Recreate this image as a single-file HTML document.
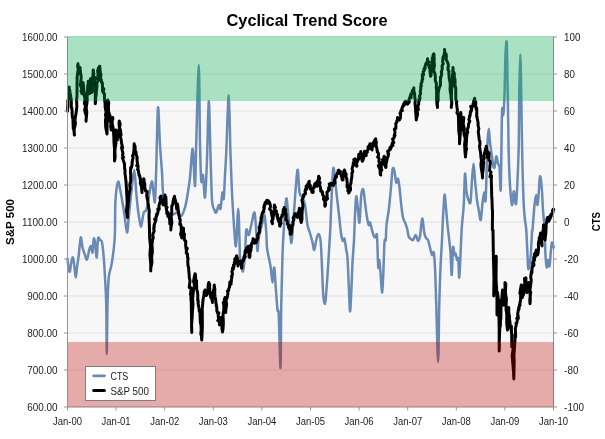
<!DOCTYPE html>
<html><head><meta charset="utf-8"><title>Cyclical Trend Score</title>
<style>
html,body{margin:0;padding:0;background:#fff;}
svg{display:block;font-family:"Liberation Sans",sans-serif;}
</style></head><body>
<svg width="605" height="439" viewBox="0 0 605 439">
<rect width="605" height="439" fill="#ffffff"/>
<rect x="67.5" y="37.0" width="486.0" height="370.0" fill="#f7f7f7"/>
<g stroke="#dedede" stroke-width="0.9" shape-rendering="auto"><line x1="67.5" x2="553.5" y1="37.0" y2="37.0"/><line x1="67.5" x2="553.5" y1="74.0" y2="74.0"/><line x1="67.5" x2="553.5" y1="111.0" y2="111.0"/><line x1="67.5" x2="553.5" y1="148.0" y2="148.0"/><line x1="67.5" x2="553.5" y1="185.0" y2="185.0"/><line x1="67.5" x2="553.5" y1="222.0" y2="222.0"/><line x1="67.5" x2="553.5" y1="259.0" y2="259.0"/><line x1="67.5" x2="553.5" y1="296.0" y2="296.0"/><line x1="67.5" x2="553.5" y1="333.0" y2="333.0"/><line x1="67.5" x2="553.5" y1="370.0" y2="370.0"/><line x1="67.5" x2="553.5" y1="407.0" y2="407.0"/></g>
<path fill="none" stroke="#698ab4" stroke-width="2.5" stroke-linejoin="round" stroke-linecap="round" d="M67.50,258.75C67.71,260.62 68.33,267.96 68.75,270.00C69.17,272.04 69.58,272.25 70.00,271.00C70.42,269.75 70.75,264.75 71.25,262.50C71.75,260.25 72.46,256.67 73.00,257.50C73.54,258.33 74.04,264.17 74.50,267.50C74.96,270.83 75.33,277.50 75.75,277.50C76.17,277.50 76.50,271.25 77.00,267.50C77.50,263.75 78.12,260.00 78.75,255.00C79.38,250.00 80.12,238.75 80.75,237.50C81.38,236.25 81.79,244.58 82.50,247.50C83.21,250.42 84.25,253.00 85.00,255.00C85.75,257.00 86.25,260.54 87.00,259.50C87.75,258.46 88.79,250.96 89.50,248.75C90.21,246.54 90.75,245.62 91.25,246.25C91.75,246.88 92.08,253.75 92.50,252.50C92.92,251.25 93.33,240.42 93.75,238.75C94.17,237.08 94.50,239.38 95.00,242.50C95.50,245.62 96.25,258.12 96.75,257.50C97.25,256.88 97.46,241.67 98.00,238.75C98.54,235.83 99.33,239.38 100.00,240.00C100.67,240.62 101.38,239.58 102.00,242.50C102.62,245.42 103.25,251.67 103.75,257.50C104.25,263.33 104.58,269.58 105.00,277.50C105.42,285.42 105.96,292.25 106.25,305.00C106.54,317.75 106.54,354.00 106.75,354.00C106.96,354.00 107.17,317.75 107.50,305.00C107.83,292.25 108.12,284.00 108.75,277.50C109.38,271.00 110.54,269.75 111.25,266.00C111.96,262.25 112.46,259.17 113.00,255.00C113.54,250.83 114.17,245.17 114.50,241.00C114.83,236.83 114.83,236.83 115.00,230.00C115.17,223.17 115.00,208.00 115.50,200.00C116.00,192.00 117.25,183.88 118.00,182.00C118.75,180.12 119.25,185.33 120.00,188.75C120.75,192.17 121.75,198.12 122.50,202.50C123.25,206.88 123.75,210.00 124.50,215.00C125.25,220.00 126.29,232.08 127.00,232.50C127.71,232.92 128.04,224.17 128.75,217.50C129.46,210.83 130.33,200.42 131.25,192.50C132.17,184.58 133.42,170.00 134.25,170.00C135.08,170.00 135.62,185.83 136.25,192.50C136.88,199.17 137.38,205.00 138.00,210.00C138.62,215.00 139.46,219.83 140.00,222.50C140.54,225.17 140.62,227.67 141.25,226.00C141.88,224.33 142.92,215.17 143.75,212.50C144.58,209.83 145.42,212.50 146.25,210.00C147.08,207.50 147.83,202.29 148.75,197.50C149.67,192.71 150.92,181.67 151.75,181.25C152.58,180.83 153.21,191.71 153.75,195.00C154.29,198.29 154.58,205.58 155.00,201.00C155.42,196.42 155.75,183.08 156.25,167.50C156.75,151.92 157.38,111.25 158.00,107.50C158.62,103.75 159.33,134.17 160.00,145.00C160.67,155.83 161.50,164.58 162.00,172.50C162.50,180.42 162.50,187.08 163.00,192.50C163.50,197.92 164.17,201.58 165.00,205.00C165.83,208.42 166.83,211.33 168.00,213.00C169.17,214.67 170.42,215.08 172.00,215.00C173.58,214.92 175.96,212.33 177.50,212.50C179.04,212.67 180.00,216.83 181.25,216.00C182.50,215.17 183.96,211.00 185.00,207.50C186.04,204.00 186.67,200.00 187.50,195.00C188.33,190.00 189.29,184.17 190.00,177.50C190.71,170.83 191.25,159.42 191.75,155.00C192.25,150.58 192.46,145.83 193.00,151.00C193.54,156.17 194.46,187.42 195.00,186.00C195.54,184.58 195.62,162.67 196.25,142.50C196.88,122.33 198.12,65.00 198.75,65.00C199.38,65.00 199.58,123.17 200.00,142.50C200.42,161.83 200.75,175.58 201.25,181.00C201.75,186.42 202.38,172.25 203.00,175.00C203.62,177.75 204.33,200.00 205.00,197.50C205.67,195.00 206.38,176.04 207.00,160.00C207.62,143.96 208.17,102.08 208.75,101.25C209.33,100.42 209.96,138.54 210.50,155.00C211.04,171.46 211.33,190.83 212.00,200.00C212.67,209.17 213.79,207.92 214.50,210.00C215.21,212.08 215.54,213.33 216.25,212.50C216.96,211.67 218.04,205.62 218.75,205.00C219.46,204.38 219.88,210.83 220.50,208.75C221.12,206.67 221.96,194.17 222.50,192.50C223.04,190.83 223.33,201.67 223.75,198.75C224.17,195.83 224.58,182.71 225.00,175.00C225.42,167.29 225.62,165.75 226.25,152.50C226.88,139.25 228.04,95.08 228.75,95.50C229.46,95.92 229.96,138.83 230.50,155.00C231.04,171.17 231.46,181.33 232.00,192.50C232.54,203.67 233.17,213.25 233.75,222.00C234.33,230.75 235.04,242.00 235.50,245.00C235.96,248.00 236.04,246.04 236.50,240.00C236.96,233.96 237.75,208.75 238.25,208.75C238.75,208.75 239.21,231.88 239.50,240.00C239.79,248.12 239.62,253.33 240.00,257.50C240.38,261.67 241.25,262.71 241.75,265.00C242.25,267.29 242.46,272.92 243.00,271.25C243.54,269.58 244.46,261.88 245.00,255.00C245.54,248.12 245.62,233.33 246.25,230.00C246.88,226.67 247.92,235.83 248.75,235.00C249.58,234.17 250.29,228.75 251.25,225.00C252.21,221.25 253.67,211.33 254.50,212.50C255.33,213.67 255.75,225.58 256.25,232.00C256.75,238.42 257.08,250.00 257.50,251.00C257.92,252.00 257.92,242.75 258.75,238.00C259.58,233.25 261.54,226.33 262.50,222.50C263.46,218.67 263.88,213.42 264.50,215.00C265.12,216.58 265.83,226.58 266.25,232.00C266.67,237.42 266.58,243.25 267.00,247.50C267.42,251.75 268.12,254.17 268.75,257.50C269.38,260.83 270.12,263.33 270.75,267.50C271.38,271.67 271.92,282.50 272.50,282.50C273.08,282.50 273.71,266.67 274.25,267.50C274.79,268.33 275.21,280.42 275.75,287.50C276.29,294.58 277.00,305.42 277.50,310.00C278.00,314.58 278.25,305.33 278.75,315.00C279.25,324.67 280.08,369.67 280.50,368.00C280.92,366.33 280.92,323.83 281.25,305.00C281.58,286.17 282.08,267.50 282.50,255.00C282.92,242.50 283.12,239.38 283.75,230.00C284.38,220.62 285.54,201.67 286.25,198.75C286.96,195.83 287.38,207.29 288.00,212.50C288.62,217.71 289.47,224.92 290.00,230.00C290.53,235.08 290.77,242.67 291.20,243.00C291.63,243.33 292.05,238.33 292.60,232.00C293.15,225.67 293.68,215.33 294.50,205.00C295.32,194.67 296.67,172.08 297.50,170.00C298.33,167.92 298.67,187.92 299.50,192.50C300.33,197.08 301.58,195.42 302.50,197.50C303.42,199.58 304.17,200.42 305.00,205.00C305.83,209.58 306.67,220.33 307.50,225.00C308.33,229.67 309.17,230.08 310.00,233.00C310.83,235.92 311.79,239.67 312.50,242.50C313.21,245.33 313.62,250.42 314.25,250.00C314.88,249.58 315.50,242.67 316.25,240.00C317.00,237.33 318.00,233.58 318.75,234.00C319.50,234.42 320.21,236.92 320.75,242.50C321.29,248.08 321.58,258.75 322.00,267.50C322.42,276.25 322.75,288.96 323.25,295.00C323.75,301.04 324.50,304.17 325.00,303.75C325.50,303.33 325.75,298.54 326.25,292.50C326.75,286.46 327.46,275.83 328.00,267.50C328.54,259.17 329.08,249.58 329.50,242.50C329.92,235.42 330.21,231.25 330.50,225.00C330.79,218.75 330.79,214.38 331.25,205.00C331.71,195.62 332.62,172.92 333.25,168.75C333.88,164.58 334.38,175.21 335.00,180.00C335.62,184.79 336.33,191.67 337.00,197.50C337.67,203.33 338.29,208.75 339.00,215.00C339.71,221.25 340.58,230.67 341.25,235.00C341.92,239.33 342.46,240.38 343.00,241.00C343.54,241.62 343.96,237.25 344.50,238.75C345.04,240.25 345.75,246.79 346.25,250.00C346.75,253.21 347.08,252.17 347.50,258.00C347.92,263.83 348.33,276.12 348.75,285.00C349.17,293.88 349.58,310.00 350.00,311.25C350.42,312.50 350.83,300.62 351.25,292.50C351.67,284.38 352.04,271.25 352.50,262.50C352.96,253.75 353.58,247.92 354.00,240.00C354.42,232.08 354.62,222.29 355.00,215.00C355.38,207.71 355.75,197.08 356.25,196.25C356.75,195.42 357.46,205.62 358.00,210.00C358.54,214.38 358.96,225.00 359.50,222.50C360.04,220.00 360.62,200.50 361.25,195.00C361.88,189.50 362.62,188.25 363.25,189.50C363.88,190.75 364.38,197.83 365.00,202.50C365.62,207.17 366.38,213.75 367.00,217.50C367.62,221.25 368.25,224.17 368.75,225.00C369.25,225.83 369.46,221.67 370.00,222.50C370.54,223.33 371.38,227.75 372.00,230.00C372.62,232.25 373.17,234.75 373.75,236.00C374.33,237.25 374.96,237.50 375.50,237.50C376.04,237.50 376.54,231.00 377.00,236.00C377.46,241.00 377.88,263.50 378.25,267.50C378.62,271.50 378.88,259.17 379.25,260.00C379.62,260.83 380.04,267.08 380.50,272.50C380.96,277.92 381.54,292.08 382.00,292.50C382.46,292.92 382.83,283.42 383.25,275.00C383.67,266.58 384.08,247.83 384.50,242.00C384.92,236.17 385.42,242.83 385.75,240.00C386.08,237.17 386.00,230.00 386.50,225.00C387.00,220.00 388.04,215.83 388.75,210.00C389.46,204.17 390.12,196.67 390.75,190.00C391.38,183.33 391.92,173.33 392.50,170.00C393.08,166.67 393.62,167.92 394.25,170.00C394.88,172.08 395.62,181.04 396.25,182.50C396.88,183.96 397.46,177.92 398.00,178.75C398.54,179.58 398.96,183.12 399.50,187.50C400.04,191.88 400.67,200.00 401.25,205.00C401.83,210.00 402.38,214.58 403.00,217.50C403.62,220.42 404.33,220.75 405.00,222.50C405.67,224.25 406.42,225.75 407.00,228.00C407.58,230.25 407.92,234.21 408.50,236.00C409.08,237.79 409.75,238.08 410.50,238.75C411.25,239.42 412.12,240.62 413.00,240.00C413.88,239.38 414.92,234.83 415.75,235.00C416.58,235.17 417.29,240.83 418.00,241.00C418.71,241.17 419.46,238.67 420.00,236.00C420.54,233.33 420.83,227.88 421.25,225.00C421.67,222.12 422.00,217.50 422.50,218.75C423.00,220.00 423.67,229.29 424.25,232.50C424.83,235.71 425.38,236.75 426.00,238.00C426.62,239.25 427.33,238.42 428.00,240.00C428.67,241.58 429.33,245.00 430.00,247.50C430.67,250.00 431.38,254.17 432.00,255.00C432.62,255.83 433.25,250.42 433.75,252.50C434.25,254.58 434.58,258.75 435.00,267.50C435.42,276.25 435.73,289.25 436.25,305.00C436.77,320.75 437.60,362.00 438.10,362.00C438.60,362.00 438.85,320.75 439.25,305.00C439.65,289.25 440.04,278.33 440.50,267.50C440.96,256.67 441.58,248.33 442.00,240.00C442.42,231.67 442.58,225.00 443.00,217.50C443.42,210.00 444.04,197.08 444.50,195.00C444.96,192.92 445.25,200.00 445.75,205.00C446.25,210.00 446.96,219.50 447.50,225.00C448.04,230.50 448.50,233.42 449.00,238.00C449.50,242.58 450.04,246.33 450.50,252.50C450.96,258.67 451.33,275.83 451.75,275.00C452.17,274.17 452.54,250.83 453.00,247.50C453.46,244.17 454.04,253.96 454.50,255.00C454.96,256.04 455.33,252.92 455.75,253.75C456.17,254.58 456.58,259.17 457.00,260.00C457.42,260.83 457.88,255.83 458.25,258.75C458.62,261.67 458.88,278.12 459.25,277.50C459.62,276.88 460.08,263.25 460.50,255.00C460.92,246.75 461.21,236.33 461.75,228.00C462.29,219.67 463.21,214.04 463.75,205.00C464.29,195.96 464.54,175.92 465.00,173.75C465.46,171.58 465.92,187.62 466.50,192.00C467.08,196.38 467.83,198.33 468.50,200.00C469.17,201.67 469.92,205.33 470.50,202.00C471.08,198.67 471.50,186.38 472.00,180.00C472.50,173.62 473.00,163.75 473.50,163.75C474.00,163.75 474.42,173.96 475.00,180.00C475.58,186.04 476.38,195.00 477.00,200.00C477.62,205.00 478.12,206.67 478.75,210.00C479.38,213.33 480.12,221.17 480.75,220.00C481.38,218.83 481.92,207.58 482.50,203.00C483.08,198.42 483.75,192.83 484.25,192.50C484.75,192.17 485.12,203.92 485.50,201.00C485.88,198.08 486.17,184.75 486.50,175.00C486.83,165.25 487.12,150.21 487.50,142.50C487.88,134.79 488.33,128.75 488.75,128.75C489.17,128.75 489.50,138.12 490.00,142.50C490.50,146.88 491.25,151.25 491.75,155.00C492.25,158.75 492.54,162.92 493.00,165.00C493.46,167.08 493.96,168.96 494.50,167.50C495.04,166.04 495.67,156.88 496.25,156.25C496.83,155.62 497.46,161.88 498.00,163.75C498.54,165.62 499.04,163.33 499.50,167.50C499.96,171.67 500.33,197.92 500.75,188.75C501.17,179.58 501.58,124.79 502.00,112.50C502.42,100.21 502.83,117.92 503.25,115.00C503.67,112.08 504.12,105.00 504.50,95.00C504.88,85.00 505.12,63.75 505.50,55.00C505.88,46.25 506.42,38.33 506.75,42.50C507.08,46.67 507.25,66.25 507.50,80.00C507.75,93.75 508.04,112.50 508.25,125.00C508.46,137.50 508.46,145.00 508.75,155.00C509.04,165.00 509.46,176.67 510.00,185.00C510.54,193.33 511.38,203.96 512.00,205.00C512.62,206.04 513.25,191.88 513.75,191.25C514.25,190.62 514.58,199.38 515.00,201.25C515.42,203.12 515.83,206.04 516.25,202.50C516.67,198.96 517.08,189.58 517.50,180.00C517.92,170.42 518.46,159.58 518.75,145.00C519.04,130.42 519.00,107.58 519.25,92.50C519.50,77.42 519.92,54.50 520.25,54.50C520.58,54.50 521.00,79.92 521.25,92.50C521.50,105.08 521.54,117.50 521.75,130.00C521.96,142.50 522.17,155.00 522.50,167.50C522.83,180.00 523.33,196.25 523.75,205.00C524.17,213.75 524.58,215.83 525.00,220.00C525.42,224.17 525.83,224.17 526.25,230.00C526.67,235.83 527.17,248.54 527.50,255.00C527.83,261.46 527.92,267.08 528.25,268.75C528.58,270.42 529.08,267.29 529.50,265.00C529.92,262.71 530.33,260.50 530.75,255.00C531.17,249.50 531.71,236.17 532.00,232.00C532.29,227.83 532.08,234.50 532.50,230.00C532.92,225.50 533.88,210.83 534.50,205.00C535.12,199.17 535.75,195.00 536.25,195.00C536.75,195.00 537.08,205.42 537.50,205.00C537.92,204.58 538.33,197.29 538.75,192.50C539.17,187.71 539.50,177.08 540.00,176.25C540.50,175.42 541.25,181.88 541.75,187.50C542.25,193.12 542.54,203.25 543.00,210.00C543.46,216.75 544.08,220.50 544.50,228.00C544.92,235.50 545.12,248.42 545.50,255.00C545.88,261.58 546.33,266.67 546.75,267.50C547.17,268.33 547.54,260.21 548.00,260.00C548.46,259.79 549.04,267.50 549.50,266.25C549.96,265.00 550.33,256.46 550.75,252.50C551.17,248.54 551.50,243.33 552.00,242.50C552.50,241.67 553.46,246.67 553.75,247.50"/>
<polyline fill="none" stroke="#000000" stroke-width="3" stroke-linejoin="round" stroke-linecap="round" points="67.50,111.25 67.64,108.48 67.91,103.89 67.86,100.57 68.97,97.97 69.19,94.27 69.17,90.72 69.25,87.00 68.80,89.76 69.96,90.88 69.29,89.43 69.88,92.76 70.50,95.00 70.88,97.44 71.22,99.13 71.38,103.04 71.22,107.34 71.75,107.50 72.23,112.13 71.99,112.49 72.36,116.36 73.02,119.84 73.00,122.50 73.06,123.28 73.28,128.33 73.41,129.08 74.18,128.81 74.27,134.69 74.50,135.00 73.90,130.56 74.96,125.89 75.46,122.92 74.88,120.13 75.75,115.00 76.28,111.79 76.86,106.49 76.55,99.73 77.01,96.17 77.00,92.50 77.06,83.59 77.09,77.40 78.29,68.17 78.00,63.75 77.64,66.58 79.11,69.54 77.95,67.83 79.00,73.75 79.40,71.19 79.03,71.95 80.21,69.28 80.00,67.50 80.35,72.09 81.17,76.34 80.97,80.24 80.34,85.24 81.25,87.50 81.90,90.30 80.92,90.80 82.00,93.75 82.60,88.47 82.42,89.51 82.20,87.50 83.00,82.50 83.48,84.80 83.64,88.38 83.80,91.56 83.72,91.94 84.25,95.00 84.94,98.79 84.38,103.79 85.62,105.65 84.67,109.82 85.44,113.34 86.34,116.10 86.00,121.25 86.78,112.34 86.17,107.73 87.22,100.86 87.00,92.50 87.39,90.44 87.56,88.78 87.68,86.13 88.24,83.50 88.25,81.25 88.82,84.52 89.59,86.69 88.82,88.24 89.24,92.51 89.50,93.75 89.61,90.52 90.77,82.76 89.78,82.83 90.50,78.75 90.92,81.82 90.82,85.14 91.37,86.29 92.52,90.23 91.75,92.50 91.77,88.61 92.16,84.91 91.35,80.59 93.17,75.91 92.97,75.05 93.25,70.00 93.86,74.78 93.04,75.02 93.86,79.10 94.71,77.35 94.50,83.75 95.21,88.45 95.29,95.05 95.25,103.75 95.57,102.04 95.69,97.34 96.33,93.94 96.21,92.50 96.94,86.68 96.75,83.75 98.15,80.19 97.63,79.39 97.56,78.71 97.84,76.62 98.00,73.75 97.61,70.45 98.76,69.94 98.32,68.00 99.53,69.77 99.87,66.22 99.50,66.25 99.75,66.70 100.32,72.41 99.88,74.37 100.91,74.01 100.75,76.25 100.17,80.13 101.21,79.36 101.67,82.70 102.38,82.72 102.48,88.09 102.86,87.79 102.50,90.00 102.44,91.14 103.05,89.67 103.85,88.89 102.54,88.47 103.75,88.75 103.22,92.61 104.38,93.42 104.50,98.13 104.78,101.55 105.00,102.50 105.22,107.66 106.13,112.19 105.47,114.95 106.00,117.50 105.46,120.15 105.68,127.20 106.23,129.86 107.00,134.00 107.17,122.63 107.25,111.65 107.75,100.00 108.75,102.56 108.47,106.36 108.42,105.79 108.52,111.46 109.00,112.50 108.56,112.56 109.92,115.33 109.75,116.22 110.00,116.00 110.32,117.20 109.84,120.73 111.14,123.63 110.62,126.15 111.25,130.00 110.86,127.76 111.25,126.33 111.01,124.20 111.98,119.03 112.80,119.21 112.75,117.50 112.06,122.52 113.37,129.30 113.83,137.16 114.03,142.80 114.56,149.47 114.44,151.95 114.50,161.00 115.13,157.61 114.88,150.03 116.06,143.11 115.70,143.63 115.36,136.10 116.00,130.00 117.04,131.50 116.74,134.56 116.37,134.88 117.12,137.79 117.24,138.07 117.50,140.00 117.32,136.80 118.37,134.71 117.89,130.71 119.62,130.69 119.02,122.90 119.26,124.37 119.25,121.00 120.21,123.92 119.72,126.38 119.18,129.41 120.39,129.38 121.06,135.13 120.75,135.00 120.41,136.95 121.37,140.96 121.33,142.25 122.64,147.84 121.50,147.46 122.97,153.49 122.50,155.00 123.51,157.35 122.63,157.85 122.34,157.73 123.48,160.71 123.44,161.08 124.19,163.01 124.52,164.03 124.50,165.00 124.61,168.93 125.02,169.59 124.99,173.57 125.45,176.64 125.75,179.52 125.94,180.43 126.25,185.00 126.68,192.93 126.93,197.74 127.19,203.19 126.45,211.08 127.50,217.50 127.36,215.01 127.54,206.93 127.81,209.15 128.34,201.64 128.75,200.00 128.68,196.65 129.46,192.12 130.12,188.77 129.74,184.56 130.69,181.01 130.68,174.15 130.44,172.56 130.75,167.50 130.88,167.88 131.50,166.59 131.41,167.75 132.27,162.92 132.04,165.67 132.11,162.26 132.50,160.00 133.16,157.69 132.51,155.61 133.40,154.57 133.83,150.75 134.11,149.13 134.09,146.15 134.25,143.75 134.40,146.09 134.31,145.71 135.00,145.98 135.07,146.64 135.21,151.55 135.99,152.11 135.90,151.67 136.25,155.00 137.27,157.84 137.21,158.09 136.92,158.95 137.58,164.84 136.70,165.64 138.01,165.46 138.00,170.00 137.48,169.49 138.24,169.97 138.76,173.15 139.27,174.70 139.88,176.27 138.95,174.94 139.30,175.10 140.00,177.50 140.22,179.38 140.71,179.09 140.23,183.09 140.92,184.58 141.22,185.84 141.79,189.23 141.71,189.71 142.00,192.50 142.18,186.83 142.09,188.62 142.12,186.88 143.06,182.77 143.14,182.25 143.69,181.55 143.75,178.75 143.98,179.20 144.19,181.88 144.81,183.97 144.45,183.34 144.84,185.78 144.78,188.24 145.50,190.00 145.54,191.08 146.22,191.31 147.23,192.38 146.96,193.92 147.22,191.46 146.68,195.96 147.50,199.74 147.50,197.50 147.89,202.16 148.32,204.62 148.46,206.04 148.71,207.70 149.25,210.70 149.00,215.00 149.35,225.38 149.50,230.00 149.66,238.23 150.49,246.44 149.91,254.95 150.74,263.77 150.75,271.00 150.68,268.95 151.95,262.17 151.61,257.13 152.34,252.33 152.28,248.20 151.96,245.41 152.50,240.00 153.31,237.49 152.72,236.10 153.23,232.92 154.14,231.54 153.75,227.50 153.78,229.61 154.25,226.57 154.23,224.44 154.02,225.93 155.57,220.85 154.62,219.30 155.99,219.88 155.72,219.07 155.95,217.02 156.25,217.50 156.51,214.54 156.72,215.92 157.20,214.18 156.87,213.72 157.30,214.63 158.07,211.34 157.80,209.54 157.86,209.02 158.62,209.20 158.75,207.50 159.24,209.23 158.95,205.27 160.67,201.59 159.53,203.23 160.06,202.43 160.15,201.25 160.52,200.67 159.96,197.30 161.00,195.97 161.25,196.25 161.06,198.35 161.48,199.61 162.31,200.42 162.46,201.11 161.91,202.46 162.94,203.03 163.00,205.00 163.21,204.77 163.13,203.37 164.53,200.50 164.06,199.80 164.90,199.18 164.88,196.56 164.74,196.24 165.00,195.00 164.50,199.15 165.88,197.00 166.06,201.38 166.19,204.25 165.62,205.65 167.13,207.34 166.32,208.46 167.00,212.50 166.74,213.23 168.21,213.64 167.85,216.37 167.78,212.69 168.47,214.63 168.07,212.58 168.87,214.78 168.45,214.45 169.25,215.00 169.27,218.13 169.70,219.88 169.85,223.93 170.83,224.50 170.86,226.47 170.75,230.00 171.03,227.45 171.89,222.34 171.47,219.55 171.12,215.74 171.72,212.65 171.78,205.88 172.50,205.00 172.77,204.26 172.77,204.02 173.14,200.90 173.70,198.49 173.47,199.50 174.36,198.22 174.38,196.45 174.50,196.25 174.88,199.76 174.71,201.97 174.98,200.02 175.57,202.64 175.23,199.64 176.25,204.83 176.25,205.00 176.76,209.33 176.84,206.85 177.39,207.75 177.95,206.32 177.34,204.07 178.09,208.99 178.39,213.18 178.25,210.65 178.29,210.61 178.75,212.50 178.74,215.01 179.27,215.88 179.43,218.67 179.96,218.88 180.28,220.51 179.77,224.34 180.50,224.00 180.95,225.50 181.45,230.07 180.59,234.59 181.64,236.41 181.75,238.00 182.08,235.80 181.60,235.32 182.51,231.61 182.90,230.11 183.00,228.00 183.53,229.10 183.48,228.29 183.57,233.72 184.56,233.90 184.25,236.00 184.45,239.82 184.61,240.33 185.70,241.05 185.77,241.70 185.59,244.23 185.75,246.00 186.05,249.18 187.25,248.38 186.26,251.61 186.31,253.25 187.24,253.84 187.47,253.75 187.50,257.50 188.07,257.90 187.71,261.74 188.08,266.17 188.53,266.96 188.75,270.00 189.23,275.65 189.25,277.50 190.02,280.86 189.21,287.39 190.00,287.50 191.18,287.80 190.48,294.07 191.16,297.41 190.89,298.07 191.25,302.50 191.54,318.91 191.75,332.50 191.54,324.44 192.24,316.53 192.39,311.91 192.94,304.88 192.63,298.63 193.25,292.50 193.48,288.92 193.76,288.16 194.50,286.78 193.92,281.21 193.46,281.69 194.45,276.38 195.00,273.75 195.47,274.22 195.69,278.36 194.98,281.11 196.50,280.50 196.59,285.64 196.70,288.28 196.75,290.00 197.55,291.78 197.62,293.61 197.81,295.14 197.70,300.69 198.19,300.20 198.25,302.50 198.02,303.21 198.83,307.35 199.18,308.57 199.23,311.48 199.34,310.68 200.12,313.30 200.00,315.00 200.13,317.79 200.39,322.99 200.90,324.07 201.18,329.53 200.83,333.91 201.38,335.97 201.75,340.00 202.36,327.80 202.30,312.00 202.24,308.60 202.40,307.15 203.00,300.00 203.04,300.38 203.23,298.60 204.68,292.79 203.82,295.68 204.21,292.84 205.40,292.61 204.06,292.41 205.00,290.00 204.53,292.28 205.26,291.63 206.28,292.30 205.42,290.55 206.75,294.58 206.16,295.45 206.75,295.00 207.21,294.32 206.30,291.46 207.88,291.31 208.12,285.41 208.07,287.86 209.32,284.33 208.36,284.11 208.75,282.50 209.37,283.68 209.73,285.00 209.61,287.14 209.82,288.70 209.33,292.92 210.38,292.45 210.50,295.00 210.83,297.28 210.59,296.72 211.48,298.53 211.36,295.88 212.27,300.13 212.01,300.25 212.36,300.98 212.50,302.50 212.32,298.99 212.75,296.67 212.76,295.87 212.95,293.40 213.32,290.48 214.58,287.78 214.25,285.00 214.19,287.98 214.81,288.48 214.74,293.97 215.05,296.78 215.81,300.63 215.75,302.50 216.38,304.54 216.13,305.34 216.39,306.46 216.67,306.42 216.86,309.62 216.84,311.05 217.50,312.50 217.97,313.89 218.87,312.91 218.16,315.29 218.91,321.51 217.70,320.45 219.22,321.56 219.48,321.10 219.50,325.00 220.11,323.89 220.01,321.39 220.52,320.00 220.59,318.47 220.75,317.50 220.06,319.54 221.33,322.43 221.13,323.68 222.01,325.94 222.52,329.93 221.87,327.93 222.50,332.00 223.11,328.19 223.39,322.05 222.99,315.06 223.87,309.45 223.75,305.00 223.24,302.46 225.30,304.00 224.21,299.74 224.85,298.22 225.00,297.50 225.80,302.42 225.04,308.86 225.75,312.50 225.76,310.23 226.24,307.17 226.64,304.28 225.98,300.20 226.47,299.21 227.24,297.56 227.50,295.00 227.98,293.87 227.67,291.76 227.36,291.07 228.70,290.55 228.70,288.57 229.39,287.52 229.56,286.86 229.50,285.00 229.84,285.64 229.76,283.20 229.91,282.03 231.15,283.97 230.76,282.02 231.49,281.55 231.25,280.00 232.01,276.69 231.48,276.47 232.60,274.11 231.89,271.63 232.50,270.00 232.47,268.04 233.63,267.21 233.26,269.03 234.00,266.06 233.49,265.07 234.68,264.22 234.25,262.50 235.03,261.82 234.97,260.73 235.18,261.51 234.65,259.31 235.60,258.00 235.62,258.63 236.84,257.69 236.25,256.25 236.64,255.89 237.56,258.83 236.99,258.84 237.23,260.11 237.53,262.98 237.76,264.04 238.00,265.00 237.89,266.02 238.23,262.17 238.67,262.80 238.58,262.76 239.37,261.43 239.44,263.67 240.04,261.56 240.00,261.25 240.30,261.91 240.48,263.57 240.71,261.09 240.99,263.45 241.52,264.52 241.56,268.20 241.31,265.55 242.00,267.50 241.66,263.58 241.71,265.02 242.48,261.27 242.38,262.43 242.92,259.98 243.64,260.34 243.75,257.50 244.82,257.82 244.31,256.19 245.26,256.74 244.62,254.98 245.12,253.80 245.04,251.62 245.28,250.64 246.26,252.06 245.49,252.20 246.25,250.00 246.87,247.66 247.52,250.13 247.87,247.65 247.47,249.01 247.58,248.39 248.19,246.30 248.00,247.50 247.73,247.72 248.27,250.20 248.90,252.78 249.01,253.46 249.06,256.82 249.50,257.50 250.07,255.82 249.86,255.54 250.00,252.82 250.98,250.08 251.10,247.41 251.43,246.99 251.25,245.00 250.83,245.20 251.38,245.33 251.71,243.33 252.37,242.65 252.61,241.92 253.03,242.01 253.09,238.64 253.74,241.03 252.75,240.60 253.75,240.00 254.20,241.36 253.80,242.11 254.43,243.24 254.69,241.71 254.85,240.09 255.71,242.44 256.15,242.64 255.51,240.27 255.73,241.55 256.25,242.50 256.16,242.23 256.89,240.47 257.07,239.72 257.34,239.78 257.90,237.41 257.12,238.73 258.05,237.52 257.56,235.16 258.51,233.13 258.75,233.75 258.78,232.75 259.70,231.91 259.14,227.04 259.97,227.73 260.00,225.00 260.33,222.81 260.83,223.07 260.98,220.90 261.13,220.57 261.02,217.42 261.64,217.85 261.76,216.89 261.75,214.94 262.12,214.16 262.50,212.50 263.42,211.44 263.86,211.85 263.58,210.30 264.24,208.87 263.70,207.36 264.20,208.22 264.47,206.68 264.42,205.62 264.15,205.38 265.00,203.75 265.08,202.70 265.18,202.66 266.11,203.76 265.43,203.42 266.62,202.08 265.88,201.71 266.48,202.25 266.85,200.29 267.35,200.40 267.50,201.25 268.13,200.63 267.71,201.13 268.02,202.93 268.86,202.68 268.88,201.39 268.78,202.35 268.84,203.37 269.19,202.74 269.31,202.02 270.00,203.75 270.50,206.46 270.57,206.55 269.61,209.12 271.51,210.96 271.25,212.50 271.89,215.81 272.22,216.68 272.44,219.81 271.60,221.21 272.50,223.75 272.15,221.33 273.24,218.29 272.39,217.65 273.66,215.43 273.19,212.79 274.87,211.13 274.16,207.54 274.50,205.00 274.69,206.79 275.44,207.21 274.68,208.75 275.30,209.74 275.86,211.53 276.48,211.10 276.25,212.50 276.65,214.48 276.52,214.24 277.50,215.55 277.47,214.41 276.97,216.25 277.91,218.62 278.00,217.50 277.89,219.41 278.82,218.48 278.41,220.90 278.79,221.76 279.45,222.39 279.70,223.60 279.52,225.54 280.00,226.25 280.01,225.05 281.17,223.46 280.69,222.56 280.85,221.40 280.71,219.66 281.28,217.24 282.49,215.79 282.00,215.00 282.99,214.64 283.11,212.63 283.25,213.55 282.95,211.57 284.28,210.96 283.32,209.55 283.94,209.40 284.07,209.57 284.25,207.50 284.36,209.09 285.36,209.28 285.44,212.57 284.68,211.71 285.06,212.42 285.94,213.66 286.21,217.30 286.25,217.50 285.82,218.15 285.94,219.81 286.69,219.93 287.27,221.39 287.35,221.89 287.52,222.83 287.51,223.67 287.44,224.15 289.30,225.43 288.75,226.25 288.47,227.21 288.84,226.61 289.19,229.11 289.91,229.28 289.61,229.35 290.82,231.08 290.10,230.16 290.17,234.23 290.52,233.17 291.25,234.00 291.59,232.24 291.63,229.73 291.56,230.29 291.93,228.04 291.79,225.59 292.86,224.89 293.00,222.50 292.78,222.05 293.66,220.22 293.95,219.23 293.67,218.99 293.11,218.05 294.08,216.20 294.57,216.92 294.83,216.41 294.76,213.68 295.50,213.75 296.40,214.51 296.40,214.09 296.59,215.34 296.77,215.64 297.26,215.63 296.60,215.50 297.74,216.50 297.50,217.50 297.31,215.73 297.81,214.40 298.13,213.77 298.27,212.43 298.77,211.70 299.05,211.12 299.39,208.27 299.50,208.75 299.53,210.14 300.33,211.54 299.95,214.43 300.36,217.32 300.56,219.27 300.38,219.23 301.25,222.50 302.01,219.24 301.95,215.45 302.20,210.91 302.65,207.83 302.91,204.71 301.92,200.14 303.00,197.50 303.72,196.62 303.33,196.11 303.57,194.76 304.04,194.48 304.89,193.63 305.29,194.11 305.47,192.80 305.00,191.25 305.30,190.72 305.44,189.47 305.72,188.91 306.69,189.13 306.06,186.75 306.48,187.20 306.29,186.06 306.05,186.66 307.22,187.48 307.50,185.00 307.74,184.36 308.61,184.03 308.32,183.13 308.25,183.94 309.17,183.56 308.85,181.81 309.25,181.25 309.13,183.04 309.16,183.84 310.46,185.55 309.86,186.41 310.20,186.17 310.19,188.64 311.69,188.48 311.25,190.00 311.18,190.11 312.80,191.44 311.77,189.78 311.97,192.28 313.28,191.59 312.46,191.78 313.00,192.50 312.46,192.06 313.04,191.08 313.03,188.30 314.12,187.58 314.58,187.04 314.01,186.39 315.10,183.47 315.00,183.75 316.02,184.42 315.82,183.04 315.45,184.44 316.45,183.95 315.88,183.85 316.40,185.87 316.04,185.51 317.00,186.25 317.46,185.96 317.78,183.17 317.26,181.29 317.72,180.64 318.23,180.31 318.62,176.91 318.75,176.25 319.65,178.65 319.29,179.17 318.71,180.67 320.13,182.55 319.45,184.98 320.35,187.00 320.78,189.30 320.75,190.00 320.65,191.06 320.84,191.21 321.58,191.25 322.16,191.42 322.47,192.42 322.31,191.73 322.50,192.50 322.43,193.50 322.92,195.23 324.50,197.08 323.82,197.38 323.45,199.15 324.08,200.00 324.93,201.72 324.95,201.82 324.75,205.08 325.00,206.25 325.33,205.43 325.62,203.87 324.96,201.99 325.02,201.70 326.38,199.86 326.16,198.33 327.53,198.75 327.00,196.25 327.23,195.93 326.83,192.36 327.55,191.87 327.77,191.39 329.52,189.52 328.52,188.95 328.75,187.50 328.99,187.80 330.00,185.85 329.57,186.18 329.90,184.90 329.26,183.96 330.47,185.39 330.53,183.17 330.59,183.96 330.41,183.47 331.25,183.75 331.79,184.14 331.74,184.12 331.75,183.80 332.27,184.15 332.47,183.65 332.69,183.29 333.94,184.12 333.43,185.40 334.09,182.63 333.75,183.75 334.29,183.48 335.04,182.95 334.82,180.28 334.38,180.44 335.21,178.64 335.09,178.21 335.53,177.87 335.63,175.86 336.52,177.02 336.25,175.00 336.46,175.24 336.94,174.47 337.20,172.95 337.49,173.73 337.12,173.92 338.63,173.31 338.84,172.03 338.11,170.57 338.16,170.58 338.75,170.00 338.99,171.02 338.40,172.74 340.46,171.59 340.03,172.49 340.11,172.53 340.20,172.62 340.50,173.75 340.82,174.51 341.13,174.70 341.27,176.13 341.75,176.11 341.93,178.36 342.25,178.17 342.04,179.05 342.50,180.00 343.06,179.87 342.93,177.04 343.41,176.40 343.12,174.47 343.71,174.23 343.50,171.77 344.46,170.37 344.50,170.00 344.80,171.33 344.95,171.41 345.22,172.98 345.64,173.68 346.21,174.15 345.93,176.43 346.25,177.50 346.90,178.85 346.98,180.66 347.31,184.11 347.08,184.96 347.11,187.13 348.26,188.24 348.00,190.00 347.77,190.79 348.98,191.78 349.09,190.18 348.71,193.02 349.25,192.50 348.99,191.75 350.54,189.92 350.47,187.57 349.74,186.18 350.42,184.65 351.04,183.02 351.08,181.87 351.25,180.00 351.50,179.18 351.94,175.78 351.91,173.12 352.81,171.54 352.05,168.88 352.69,166.82 353.00,165.00 353.71,163.38 353.71,163.54 353.26,162.69 353.96,162.24 354.06,161.31 353.80,159.53 355.08,160.28 355.00,158.75 355.24,159.39 355.95,159.39 355.41,162.45 356.27,162.29 355.46,165.15 356.56,164.53 356.75,166.25 357.02,165.49 356.16,164.24 357.81,160.53 358.07,159.34 358.48,159.51 359.20,157.37 358.50,157.16 358.75,155.00 358.73,154.18 359.09,154.32 359.05,154.41 359.98,153.80 360.71,153.20 360.80,152.73 360.82,151.42 360.75,152.50 361.08,153.62 361.04,154.56 361.35,155.73 360.83,157.07 361.77,158.37 361.81,159.90 362.50,161.25 363.08,159.82 362.79,159.73 363.66,158.16 363.99,156.01 363.70,155.80 363.77,153.66 364.41,152.77 364.50,151.25 364.63,152.49 364.93,152.84 365.70,153.33 365.81,152.56 365.20,153.48 366.20,155.54 366.25,155.00 365.99,154.28 366.39,152.60 366.88,152.69 367.34,152.10 367.09,150.95 368.14,149.43 368.20,148.03 368.25,147.50 368.04,146.67 368.48,148.51 368.80,147.08 369.33,145.58 369.81,144.26 370.13,144.56 370.00,143.75 369.61,144.96 370.73,145.64 371.42,145.80 371.21,147.41 370.87,148.52 370.89,147.50 371.97,148.43 372.00,150.00 372.20,147.92 372.53,147.40 372.89,146.22 373.19,146.24 373.28,145.49 373.55,143.69 373.75,143.75 372.92,143.15 373.86,142.17 374.68,140.45 374.43,140.81 374.56,140.86 375.19,139.41 375.09,139.96 375.75,138.75 375.72,141.42 376.44,141.89 376.04,145.50 376.89,148.31 377.00,150.00 377.59,151.82 377.34,151.99 378.08,152.91 378.44,153.14 378.52,155.23 377.67,157.13 378.75,157.50 379.13,159.70 378.80,161.54 380.13,163.47 378.29,165.63 379.50,168.34 380.08,169.97 380.15,173.57 380.75,175.00 380.39,174.62 381.02,170.64 381.83,170.05 381.31,168.40 381.23,165.41 382.72,164.10 382.50,162.50 382.20,161.98 383.39,160.70 382.49,159.57 383.68,159.48 384.53,157.85 383.80,157.12 384.25,156.25 385.01,157.45 385.30,158.02 385.33,161.39 385.44,164.25 385.00,165.56 385.75,167.50 386.10,166.49 385.86,163.93 385.69,165.04 386.67,161.63 386.37,161.03 387.03,159.96 387.50,157.50 388.11,156.58 388.31,154.82 388.11,154.27 387.97,153.76 388.69,153.85 387.59,151.39 388.86,150.60 389.50,150.00 389.93,149.93 390.01,148.94 390.46,149.19 389.73,148.38 390.17,147.36 391.06,147.90 391.25,147.50 391.55,146.09 391.67,145.28 392.16,145.65 392.99,145.29 392.16,143.26 392.36,143.03 393.83,142.54 393.25,141.25 392.58,139.02 393.21,138.98 394.00,137.50 395.00,135.37 394.14,136.06 394.89,132.76 395.00,132.00 394.40,129.09 394.47,129.17 395.77,128.60 395.94,125.53 395.94,126.58 395.76,123.47 396.76,122.44 396.83,120.88 397.59,118.81 397.50,117.50 397.56,117.63 397.59,117.93 398.12,118.64 399.06,120.01 398.56,119.64 399.12,120.11 399.26,119.94 399.50,120.00 399.55,117.82 400.37,118.39 400.53,116.13 400.61,113.85 400.00,113.49 401.08,110.90 401.25,110.00 401.09,110.73 400.99,110.69 402.27,110.78 401.95,107.98 402.29,107.65 402.66,106.28 403.45,105.75 403.04,106.53 403.27,105.08 403.75,105.00 404.15,104.11 403.73,103.83 404.41,105.03 404.29,103.79 404.67,101.98 405.11,102.05 405.50,101.25 406.11,103.18 405.73,103.03 406.67,102.78 406.18,103.11 406.70,102.84 406.89,103.39 407.72,104.09 407.41,104.21 408.36,102.60 408.00,103.75 408.87,101.69 408.73,102.76 409.37,101.67 408.80,99.86 408.72,100.58 409.40,98.37 409.97,97.55 410.00,97.50 410.07,96.43 411.19,97.65 410.68,94.12 411.12,95.07 411.40,94.92 411.37,94.64 412.10,93.33 412.00,92.50 412.08,91.50 412.79,90.37 412.68,90.17 412.41,90.94 413.24,89.86 413.87,87.85 413.75,88.75 413.97,91.78 414.60,93.21 414.80,97.21 415.32,100.84 415.00,102.50 415.48,108.06 415.50,109.09 415.61,112.10 415.99,114.70 416.25,120.00 416.46,118.62 417.17,116.10 417.58,114.02 417.19,111.05 417.18,110.31 418.36,109.78 418.00,107.50 417.80,106.44 418.70,104.16 418.76,102.53 418.78,99.59 419.21,100.89 420.09,97.86 419.44,96.36 420.00,95.00 420.62,93.45 420.26,91.59 420.67,89.86 420.83,86.12 421.27,86.34 421.05,83.65 422.11,81.52 422.00,80.00 421.98,80.65 422.84,78.46 422.36,77.78 422.32,74.52 423.55,74.99 423.12,71.88 423.75,71.25 424.08,68.56 424.51,69.99 424.32,69.07 425.07,67.97 425.21,68.20 425.06,66.04 425.50,65.00 425.54,65.18 425.83,63.88 426.31,62.72 427.20,61.80 427.33,61.86 427.54,60.16 427.63,60.23 427.50,58.75 427.50,60.25 427.95,61.22 428.78,61.83 427.82,62.13 428.57,64.40 429.01,66.77 429.25,67.50 430.21,69.54 429.94,70.32 430.24,74.01 430.79,72.69 430.50,76.25 431.11,75.42 431.33,70.28 431.13,69.92 431.67,66.33 431.39,65.69 432.00,62.50 431.71,62.58 432.51,60.28 432.21,58.20 433.28,56.14 434.09,54.95 433.01,55.04 433.75,53.75 434.19,58.43 434.10,61.56 434.40,65.22 433.71,70.64 435.00,73.75 435.35,76.65 435.25,79.48 435.74,81.93 436.45,83.16 436.25,87.50 436.60,90.52 436.62,96.88 436.56,99.41 437.01,104.38 437.50,107.50 437.35,102.45 438.21,100.17 438.12,98.00 438.14,93.16 438.75,90.00 439.06,88.95 439.04,88.10 440.40,85.34 440.50,82.34 440.57,82.54 440.31,81.12 440.50,80.00 440.49,76.95 440.84,77.45 441.71,74.05 441.29,71.85 441.27,72.29 442.27,68.86 442.05,65.93 442.50,65.00 443.28,63.78 442.62,62.04 442.80,59.78 443.11,56.87 443.95,55.71 444.41,52.60 444.89,52.68 444.50,49.50 444.75,50.71 444.69,50.93 444.72,51.94 445.58,53.88 446.13,54.18 445.85,54.01 446.25,55.00 446.36,56.99 445.97,59.28 446.37,59.88 447.26,61.67 448.17,63.84 448.38,66.80 448.00,67.50 448.05,69.95 449.02,71.36 448.79,73.24 449.02,75.51 449.28,78.84 449.50,80.00 450.31,84.05 450.08,88.65 450.13,90.81 450.95,94.85 451.13,98.75 451.74,102.61 451.25,107.50 451.84,103.17 451.36,97.44 451.67,88.73 452.54,85.29 452.42,76.60 452.73,72.93 453.00,67.50 453.10,68.90 452.78,70.31 454.48,73.93 453.85,73.51 454.41,76.81 454.50,77.50 455.04,79.92 455.07,84.63 455.83,89.10 455.71,92.62 455.75,95.00 455.84,99.39 456.08,100.49 456.87,101.38 456.47,102.84 457.00,107.50 457.32,109.18 457.37,111.61 456.90,112.72 458.04,114.17 458.57,118.40 458.50,118.00 458.57,123.28 458.76,130.99 459.49,136.25 459.50,143.75 460.15,136.24 460.33,131.78 460.44,127.65 460.39,118.55 460.75,112.50 461.19,116.06 460.71,117.84 461.20,120.77 462.30,122.56 461.96,125.23 461.06,128.45 462.50,130.00 462.98,127.70 462.84,124.10 463.18,123.99 463.46,121.66 463.75,117.50 462.96,122.58 464.36,128.77 463.83,133.61 465.25,138.48 464.60,144.37 465.03,152.15 465.50,157.00 465.99,150.84 466.59,148.94 466.01,148.05 466.47,140.81 466.49,137.77 467.00,135.00 466.84,132.92 467.85,132.10 467.19,133.43 467.60,128.48 468.26,127.60 468.50,125.00 468.62,123.69 469.85,121.37 468.81,119.78 469.50,117.50 469.43,115.97 470.08,115.77 470.14,115.33 470.42,111.61 471.10,111.70 471.49,110.27 471.25,110.00 471.73,109.49 470.66,106.38 471.55,109.05 471.49,107.55 472.94,106.14 473.02,104.03 473.00,103.75 473.25,103.71 473.67,103.99 473.67,101.95 473.77,103.00 473.58,100.65 474.33,101.20 474.64,98.29 475.00,101.25 475.11,102.55 475.81,102.03 475.63,106.65 476.20,109.15 476.68,108.00 476.76,110.48 476.75,112.50 476.68,116.89 477.00,116.45 477.34,118.95 478.16,122.97 478.00,125.00 478.82,128.51 478.25,132.29 478.49,133.43 478.93,137.05 479.25,140.00 479.98,141.75 479.89,144.97 479.49,146.15 480.16,150.50 480.63,153.09 480.75,155.00 481.02,157.73 481.42,160.34 480.96,164.45 481.17,167.51 481.70,170.75 482.23,173.73 482.50,178.00 482.58,172.79 483.06,170.71 483.41,165.21 483.18,165.90 483.75,162.50 483.01,159.76 484.29,158.03 483.89,155.88 484.81,152.10 485.00,151.00 485.55,149.99 485.51,148.54 485.97,148.27 486.46,147.76 486.25,146.25 486.25,148.22 487.12,150.30 487.16,153.65 487.18,152.37 487.50,157.50 487.80,156.76 488.06,154.56 488.74,154.33 488.25,152.61 488.75,152.50 489.15,153.65 488.84,159.98 490.03,161.30 490.30,163.24 490.00,165.00 489.57,170.77 491.00,172.14 489.95,176.89 491.56,175.86 491.25,180.00 491.55,188.47 491.72,195.89 492.00,200.00 492.28,209.11 492.53,211.56 492.35,229.86 493.00,230.00 493.36,255.05 493.96,277.99 493.75,296.00 494.23,288.91 494.26,280.14 494.42,281.01 493.87,273.66 495.00,267.50 495.59,268.34 495.12,261.48 494.99,258.38 496.22,263.32 496.25,256.25 496.03,279.04 496.92,294.26 497.00,315.00 498.14,297.88 497.50,292.50 497.72,295.51 498.87,301.69 499.17,300.31 498.90,305.68 498.75,305.00 499.18,328.84 499.20,351.00 499.39,343.85 499.22,343.15 499.80,327.55 500.35,326.12 500.50,320.00 500.82,319.23 500.96,309.38 501.25,305.00 501.20,301.95 501.57,299.48 503.28,296.92 501.90,297.50 502.50,290.00 503.10,294.91 503.29,297.91 503.53,302.29 503.91,305.15 503.75,305.00 503.79,300.49 503.95,298.24 504.84,290.41 504.99,293.13 505.00,282.50 505.76,283.89 505.46,291.98 505.74,295.40 506.48,299.27 506.25,302.50 506.05,309.67 506.71,313.77 506.77,315.77 506.74,323.67 507.50,330.00 507.31,319.15 508.47,318.29 507.95,317.74 507.51,315.14 508.75,307.50 508.69,312.04 509.05,314.21 509.54,316.50 509.00,316.06 510.00,322.50 510.23,327.58 510.28,327.32 510.82,328.99 511.41,326.14 511.36,331.01 511.37,331.22 511.75,335.00 511.68,335.59 511.80,346.87 513.20,344.02 513.05,344.72 513.00,350.00 512.13,355.41 513.59,372.70 513.80,379.00 514.02,368.86 514.18,361.07 513.95,355.06 514.60,345.90 515.00,340.00 514.89,334.82 515.60,337.26 515.66,336.23 515.34,328.64 516.25,325.00 516.03,323.12 516.79,323.31 517.46,319.20 516.74,318.56 517.50,317.50 517.87,314.37 518.37,318.44 517.67,313.85 518.92,307.01 518.75,310.00 519.08,307.97 518.67,310.08 519.59,304.38 519.93,305.50 520.00,302.50 520.56,300.36 520.67,292.75 520.58,292.30 519.87,293.49 521.25,285.00 521.34,285.03 521.01,290.58 522.01,291.13 522.08,292.92 522.50,297.50 522.44,295.77 522.74,296.09 523.19,293.31 523.67,294.47 523.75,290.00 524.25,288.93 524.18,284.90 524.36,286.77 524.84,282.66 524.45,278.38 525.38,282.76 525.50,278.75 525.90,277.83 525.91,283.85 525.87,286.44 526.42,285.96 526.24,292.11 527.00,292.50 527.40,289.00 527.08,291.72 527.99,287.50 528.65,286.11 527.82,287.91 528.42,284.74 528.75,282.50 529.02,284.41 528.76,290.55 530.07,292.90 530.31,300.02 530.00,303.75 529.80,299.62 530.73,292.15 529.88,290.33 530.55,285.78 531.25,280.00 530.72,277.17 531.42,271.54 531.90,272.90 532.02,267.24 532.50,267.50 532.84,261.99 533.22,265.79 533.94,265.28 533.64,262.40 533.76,257.26 534.60,260.16 534.25,257.50 534.38,253.89 535.36,256.87 534.52,256.25 536.02,253.70 535.66,251.84 535.49,254.38 537.26,251.21 536.25,250.00 536.45,251.80 536.63,252.74 537.34,251.97 536.81,253.93 537.50,255.00 538.09,253.14 538.51,249.32 538.45,247.94 538.54,246.75 538.35,244.05 538.53,242.41 539.25,240.00 539.15,238.10 539.84,236.54 540.47,235.16 540.60,234.69 540.50,233.00 540.33,234.95 540.66,236.97 541.14,241.33 541.33,243.25 541.93,242.52 542.00,246.00 541.31,243.18 541.69,239.72 543.17,235.89 542.91,231.75 543.36,228.19 543.50,225.00 543.53,227.13 544.48,229.37 544.40,231.34 544.21,233.62 544.67,238.19 545.00,240.00 545.37,236.50 545.75,233.65 545.90,231.28 546.22,225.51 545.72,225.78 546.50,222.00 546.71,223.13 546.90,219.20 547.86,219.18 547.50,217.50 548.52,218.76 547.92,219.73 547.93,219.30 548.27,220.28 548.75,221.25 549.32,220.05 549.38,219.32 549.86,216.34 549.67,218.56 549.56,218.70 550.34,218.25 550.50,216.25 551.14,216.43 550.94,214.22 551.16,214.38 551.60,213.91 552.99,212.30 552.48,212.97 552.15,213.90 552.50,212.50 552.75,210.68 553.17,211.10 552.41,210.90 553.07,209.35 553.75,209.50"/>
<g stroke="#969696" stroke-width="1">
<line x1="67.5" x2="67.5" y1="37.0" y2="407.0"/><line x1="553.5" x2="553.5" y1="37.0" y2="407.0"/><line x1="67.5" x2="553.5" y1="407.0" y2="407.0"/>
<line x1="64.0" x2="67.5" y1="37.0" y2="37.0"/><line x1="64.0" x2="67.5" y1="74.0" y2="74.0"/><line x1="64.0" x2="67.5" y1="111.0" y2="111.0"/><line x1="64.0" x2="67.5" y1="148.0" y2="148.0"/><line x1="64.0" x2="67.5" y1="185.0" y2="185.0"/><line x1="64.0" x2="67.5" y1="222.0" y2="222.0"/><line x1="64.0" x2="67.5" y1="259.0" y2="259.0"/><line x1="64.0" x2="67.5" y1="296.0" y2="296.0"/><line x1="64.0" x2="67.5" y1="333.0" y2="333.0"/><line x1="64.0" x2="67.5" y1="370.0" y2="370.0"/><line x1="64.0" x2="67.5" y1="407.0" y2="407.0"/><line x1="553.5" x2="557.0" y1="37.0" y2="37.0"/><line x1="553.5" x2="557.0" y1="74.0" y2="74.0"/><line x1="553.5" x2="557.0" y1="111.0" y2="111.0"/><line x1="553.5" x2="557.0" y1="148.0" y2="148.0"/><line x1="553.5" x2="557.0" y1="185.0" y2="185.0"/><line x1="553.5" x2="557.0" y1="222.0" y2="222.0"/><line x1="553.5" x2="557.0" y1="259.0" y2="259.0"/><line x1="553.5" x2="557.0" y1="296.0" y2="296.0"/><line x1="553.5" x2="557.0" y1="333.0" y2="333.0"/><line x1="553.5" x2="557.0" y1="370.0" y2="370.0"/><line x1="553.5" x2="557.0" y1="407.0" y2="407.0"/><line x1="67.50" x2="67.50" y1="407.0" y2="410.5"/><line x1="116.10" x2="116.10" y1="407.0" y2="410.5"/><line x1="164.70" x2="164.70" y1="407.0" y2="410.5"/><line x1="213.30" x2="213.30" y1="407.0" y2="410.5"/><line x1="261.90" x2="261.90" y1="407.0" y2="410.5"/><line x1="310.50" x2="310.50" y1="407.0" y2="410.5"/><line x1="359.10" x2="359.10" y1="407.0" y2="410.5"/><line x1="407.70" x2="407.70" y1="407.0" y2="410.5"/><line x1="456.30" x2="456.30" y1="407.0" y2="410.5"/><line x1="504.90" x2="504.90" y1="407.0" y2="410.5"/><line x1="553.50" x2="553.50" y1="407.0" y2="410.5"/></g>
<rect x="67" y="36" width="487" height="65" fill="#00b050" fill-opacity="0.31"/>
<rect x="67.8" y="342" width="486" height="64.8" fill="#c00000" fill-opacity="0.31"/>
<g font-size="10.4" fill="#222"><text x="57.5" y="40.50" text-anchor="end" textLength="35.4" lengthAdjust="spacingAndGlyphs">1600.00</text><text x="57.5" y="77.50" text-anchor="end" textLength="35.4" lengthAdjust="spacingAndGlyphs">1500.00</text><text x="57.5" y="114.50" text-anchor="end" textLength="35.4" lengthAdjust="spacingAndGlyphs">1400.00</text><text x="57.5" y="151.50" text-anchor="end" textLength="35.4" lengthAdjust="spacingAndGlyphs">1300.00</text><text x="57.5" y="188.50" text-anchor="end" textLength="35.4" lengthAdjust="spacingAndGlyphs">1200.00</text><text x="57.5" y="225.50" text-anchor="end" textLength="35.4" lengthAdjust="spacingAndGlyphs">1100.00</text><text x="57.5" y="262.50" text-anchor="end" textLength="35.4" lengthAdjust="spacingAndGlyphs">1000.00</text><text x="57.5" y="299.50" text-anchor="end" textLength="30.3" lengthAdjust="spacingAndGlyphs">900.00</text><text x="57.5" y="336.50" text-anchor="end" textLength="30.3" lengthAdjust="spacingAndGlyphs">800.00</text><text x="57.5" y="373.50" text-anchor="end" textLength="30.3" lengthAdjust="spacingAndGlyphs">700.00</text><text x="57.5" y="410.50" text-anchor="end" textLength="30.3" lengthAdjust="spacingAndGlyphs">600.00</text><text x="564.1" y="40.50" text-anchor="start" textLength="16.4" lengthAdjust="spacingAndGlyphs">100</text><text x="564.1" y="77.50" text-anchor="start" textLength="10.9" lengthAdjust="spacingAndGlyphs">80</text><text x="564.1" y="114.50" text-anchor="start" textLength="10.9" lengthAdjust="spacingAndGlyphs">60</text><text x="564.1" y="151.50" text-anchor="start" textLength="10.9" lengthAdjust="spacingAndGlyphs">40</text><text x="564.1" y="188.50" text-anchor="start" textLength="10.9" lengthAdjust="spacingAndGlyphs">20</text><text x="564.1" y="225.50" text-anchor="start" textLength="5.5" lengthAdjust="spacingAndGlyphs">0</text><text x="564.1" y="262.50" text-anchor="start" textLength="14.3" lengthAdjust="spacingAndGlyphs">-20</text><text x="564.1" y="299.50" text-anchor="start" textLength="14.3" lengthAdjust="spacingAndGlyphs">-40</text><text x="564.1" y="336.50" text-anchor="start" textLength="14.3" lengthAdjust="spacingAndGlyphs">-60</text><text x="564.1" y="373.50" text-anchor="start" textLength="14.3" lengthAdjust="spacingAndGlyphs">-80</text><text x="564.1" y="410.50" text-anchor="start" textLength="19.8" lengthAdjust="spacingAndGlyphs">-100</text><text x="67.50" y="424.6" text-anchor="middle" textLength="29" lengthAdjust="spacingAndGlyphs">Jan-00</text><text x="116.10" y="424.6" text-anchor="middle" textLength="29" lengthAdjust="spacingAndGlyphs">Jan-01</text><text x="164.70" y="424.6" text-anchor="middle" textLength="29" lengthAdjust="spacingAndGlyphs">Jan-02</text><text x="213.30" y="424.6" text-anchor="middle" textLength="29" lengthAdjust="spacingAndGlyphs">Jan-03</text><text x="261.90" y="424.6" text-anchor="middle" textLength="29" lengthAdjust="spacingAndGlyphs">Jan-04</text><text x="310.50" y="424.6" text-anchor="middle" textLength="29" lengthAdjust="spacingAndGlyphs">Jan-05</text><text x="359.10" y="424.6" text-anchor="middle" textLength="29" lengthAdjust="spacingAndGlyphs">Jan-06</text><text x="407.70" y="424.6" text-anchor="middle" textLength="29" lengthAdjust="spacingAndGlyphs">Jan-07</text><text x="456.30" y="424.6" text-anchor="middle" textLength="29" lengthAdjust="spacingAndGlyphs">Jan-08</text><text x="504.90" y="424.6" text-anchor="middle" textLength="29" lengthAdjust="spacingAndGlyphs">Jan-09</text><text x="553.50" y="424.6" text-anchor="middle" textLength="29" lengthAdjust="spacingAndGlyphs">Jan-10</text></g>
<text x="307" y="26.3" text-anchor="middle" font-size="16.8" font-weight="bold" fill="#000" textLength="161" lengthAdjust="spacingAndGlyphs">Cyclical Trend Score</text>
<text transform="translate(14.3,222) rotate(-90)" text-anchor="middle" font-size="11.5" font-weight="bold" fill="#000" textLength="46" lengthAdjust="spacingAndGlyphs">S&amp;P 500</text>
<text transform="translate(599.7,221.6) rotate(-90)" text-anchor="middle" font-size="11.5" font-weight="bold" fill="#000" textLength="19.2" lengthAdjust="spacingAndGlyphs">CTS</text>
<rect x="85.5" y="366.5" width="70" height="34" fill="#fff" stroke="#7f7f7f" stroke-width="1"/>
<line x1="93.6" x2="104.5" y1="375.8" y2="375.8" stroke="#6b8bb5" stroke-width="2.8" stroke-linecap="round"/>
<line x1="93.7" x2="104.4" y1="390.4" y2="390.4" stroke="#000" stroke-width="3" stroke-linecap="round"/>
<g font-size="10" fill="#1a1a1a"><text x="110.5" y="379.9" textLength="17.8" lengthAdjust="spacingAndGlyphs">CTS</text><text x="110.5" y="394.6" textLength="38.4" lengthAdjust="spacingAndGlyphs">S&amp;P 500</text></g>
</svg>
</body></html>
